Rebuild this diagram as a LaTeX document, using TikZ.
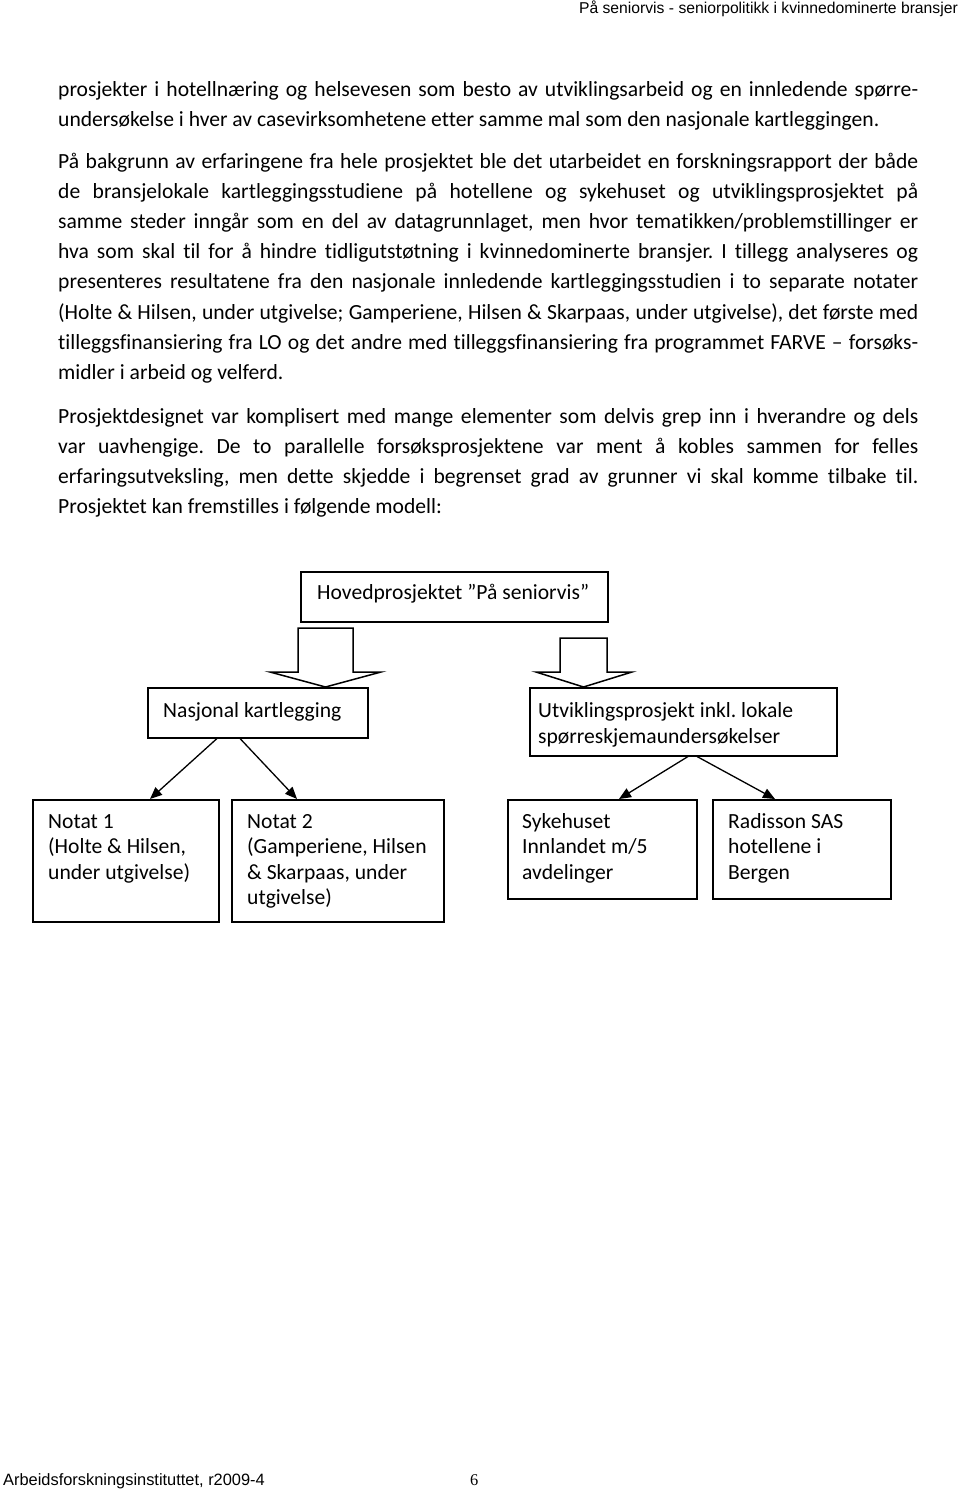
\documentclass[tikz,border=0pt]{standalone}
\usepackage{fontspec}
\setmainfont{Carlito}[Ligatures=NoCommon]
\newfontfamily\arialf{Liberation Sans}
\newfontfamily\timesf{Liberation Serif}
\usetikzlibrary{arrows.meta,calc}
\newcommand\jline[1]{\makebox[860pt][s]{#1}}
\frenchspacing
\begin{document}
\begin{tikzpicture}[x=1pt,y=-1pt,
  txt/.style={anchor=base west, inner sep=0pt, font=\fontsize{21.6}{26}\selectfont},
  box/.style={draw, line width=1.5pt, anchor=north west, inner sep=0pt},
  blk/.style={draw, line width=1.5pt, line join=miter},
  arr/.style={draw, line width=1.3pt, -{Triangle[length=12pt,width=10pt]}}]
\useasboundingbox[fill=white] (0,0) rectangle (960,1497);
% header
\node[anchor=base east, inner sep=0pt, font=\arialf\fontsize{15.7}{18}\selectfont] (hdr) at (958,13) {På seniorvis - seniorpolitikk i kvinnedominerte bransjer};
% body text
\node[txt] (l1) at (58,96) {\jline{prosjekter i hotellnæring og helsevesen som besto av utviklingsarbeid og en innledende spørre-}};
\node[txt] (l2) at (58,126) {undersøkelse i hver av casevirksomhetene etter samme mal som den nasjonale kartleggingen.};
\node[txt] (l3) at (58,168) {\jline{På bakgrunn av erfaringene fra hele prosjektet ble det utarbeidet en forskningsrapport der både}};
\node[txt] (l4) at (58,198.2) {\jline{de bransjelokale kartleggingsstudiene på hotellene og sykehuset og utviklingsprosjektet på}};
\node[txt] (l5) at (58,228.4) {\jline{samme steder inngår som en del av datagrunnlaget, men hvor tematikken/problemstillinger er}};
\node[txt] (l6) at (58,258.6) {\jline{hva som skal til for å hindre tidligutstøtning i kvinnedominerte bransjer. I tillegg analyseres og}};
\node[txt] (l7) at (58,288.8) {\jline{presenteres resultatene fra den nasjonale innledende kartleggingsstudien i to separate notater}};
\node[txt] (l8) at (58,319) {\jline{(Holte \& Hilsen, under utgivelse; Gamperiene, Hilsen \& Skarpaas, under utgivelse), det første med}};
\node[txt] (l9) at (58,349.2) {\jline{tilleggsfinansiering fra LO og det andre med tilleggsfinansiering fra programmet FARVE – forsøks-}};
\node[txt] (l10) at (58,379.4) {midler i arbeid og velferd.};
\node[txt] (l11) at (58,423) {\jline{Prosjektdesignet var komplisert med mange elementer som delvis grep inn i hverandre og dels}};
\node[txt] (l12) at (58,453.2) {\jline{var uavhengige. De to parallelle forsøksprosjektene var ment å kobles sammen for felles}};
\node[txt] (l13) at (58,483.4) {\jline{erfaringsutveksling, men dette skjedde i begrenset grad av grunner vi skal komme tilbake til.}};
\node[txt] (l14) at (58,513.6) {Prosjektet kan fremstilles i følgende modell:};
% diagram boxes
\node[box, minimum width=307pt, minimum height=50pt] (main) at (300,571) {};
\node[box, minimum width=220pt, minimum height=50pt] (nasj) at (147,687) {};
\node[box, minimum width=307pt, minimum height=68pt] (utv) at (529,687) {};
\node[box, minimum width=186pt, minimum height=122pt] (not1) at (32,799) {};
\node[box, minimum width=212pt, minimum height=122pt] (not2) at (231,799) {};
\node[box, minimum width=189pt, minimum height=99pt] (syk) at (507,799) {};
\node[box, minimum width=178pt, minimum height=99pt] (rad) at (712,799) {};
% box texts
\node[txt] (tmain) at (317,599) {Hovedprosjektet ”På seniorvis”};
\node[txt] (tnasj) at (163,717) {Nasjonal kartlegging};
\node[txt] (tutv1) at (538,717) {Utviklingsprosjekt inkl. lokale};
\node[txt] (tutv2) at (538,743) {spørreskjemaundersøkelser};
\node[txt] (tn1a) at (48,828) {Notat 1};
\node[txt] (tn1b) at (48,853.5) {(Holte \& Hilsen,};
\node[txt] (tn1c) at (48,879) {under utgivelse)};
\node[txt] (tn2a) at (247,828) {Notat 2};
\node[txt] (tn2b) at (247,853.5) {(Gamperiene, Hilsen};
\node[txt] (tn2c) at (247,879) {\& Skarpaas, under};
\node[txt] (tn2d) at (247,904.5) {utgivelse)};
\node[txt] (ts1) at (522,828) {Sykehuset};
\node[txt] (ts2) at (522,853.5) {Innlandet m/5};
\node[txt] (ts3) at (522,879) {avdelinger};
\node[txt] (tr1) at (728,828) {Radisson SAS};
\node[txt] (tr2) at (728,853.5) {hotellene i};
\node[txt] (tr3) at (728,879) {Bergen};
% block arrows
\coordinate (tipL) at ($(nasj.north west)+(178.5,0)$);
\draw[blk] ($(tipL)+(-27.5,-59)$) -- ($(tipL)+(27.5,-59)$) -- ($(tipL)+(27.5,-15)$) -- ($(tipL)+(55.5,-15)$) -- (tipL) -- ($(tipL)+(-55.5,-15)$) -- ($(tipL)+(-27.5,-15)$) -- cycle;
\coordinate (tipR) at ($(utv.north west)+(54.5,0)$);
\draw[blk] ($(tipR)+(-23.5,-49)$) -- ($(tipR)+(23.5,-49)$) -- ($(tipR)+(23.5,-15)$) -- ($(tipR)+(48.5,-15)$) -- (tipR) -- ($(tipR)+(-47.5,-15)$) -- ($(tipR)+(-23.5,-15)$) -- cycle;
% thin arrows
\draw[arr] ($(nasj.south west)+(70,0)$) -- ($(not1.north west)+(118,0)$);
\draw[arr] ($(nasj.south west)+(93,0)$) -- ($(not2.north west)+(66,0)$);
\draw[arr] ($(utv.south west)+(159,0)$) -- ($(syk.north west)+(112,0)$);
\draw[arr] ($(utv.south west)+(168,0)$) -- ($(rad.north west)+(63,0)$);
% footer
\node[anchor=base west, inner sep=0pt, font=\arialf\fontsize{16.4}{19}\selectfont] (ftr) at (3,1485) {Arbeidsforskningsinstituttet, r2009-4};
\node[anchor=base west, inner sep=0pt, font=\timesf\fontsize{16.4}{19}\selectfont] (pg) at (470,1485) {6};
\end{tikzpicture}
\end{document}
